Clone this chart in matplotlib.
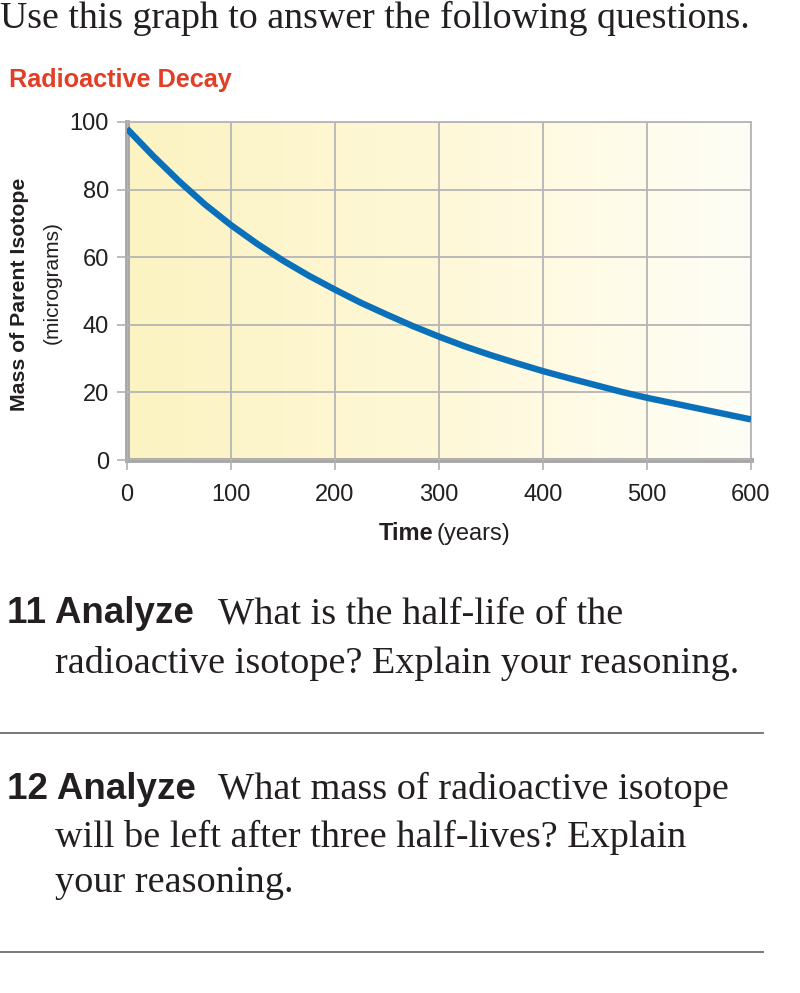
import numpy as np
import matplotlib
matplotlib.use("Agg")
import matplotlib.pyplot as plt
from matplotlib.colors import LinearSegmentedColormap

# ---- data ----
time_years = [0, 25, 50, 75, 100, 125, 150, 175, 200, 225, 250, 275, 300,
              325, 350, 375, 400, 425, 450, 475, 500, 525, 550, 575, 600]
mass_ug = [98, 90, 82.5, 75.6, 69.5, 64, 59, 54.5, 50.4, 46.5, 43, 39.6, 36.5,
           33.6, 31, 28.6, 26.3, 24.2, 22.2, 20.2, 18.4, 16.8, 15.2, 13.6, 12]
x_ticks = [0, 100, 200, 300, 400, 500, 600]
y_ticks = [0, 20, 40, 60, 80, 100]

title = "Radioactive Decay"
header = "Use this graph to answer the following questions."
q11 = ["What is the half-life of the", "radioactive isotope? Explain your reasoning."]
q12 = ["What mass of radioactive isotope", "will be left after three half-lives? Explain",
       "your reasoning."]

W, H = 800, 993
fig = plt.figure(figsize=(W / 100, H / 100), dpi=100)
fig.patch.set_facecolor("white")

def fx(px):
    return px / W

def fy(py):
    return 1 - py / H

SANS = ["Liberation Sans", "DejaVu Sans"]
SERIF = ["Liberation Serif", "DejaVu Serif"]

ax = fig.add_axes([fx(127), fy(460), (751 - 127) / W, (460 - 122) / H])

# background gradient
cmap = LinearSegmentedColormap.from_list("bg", ["#fcf3c2", "#fef8d8", "#fffef6"])
grad = np.linspace(0, 1, 256).reshape(1, -1)
ax.imshow(grad, extent=[0, 600, 0, 100], aspect="auto", cmap=cmap, zorder=0)

ax.plot(time_years, mass_ug, color="#0a70b9", lw=4.6, solid_capstyle="butt",
        solid_joinstyle="round", zorder=3)

ax.set_xlim(0, 600)
ax.set_ylim(0, 100)
ax.set_xticks(x_ticks)
ax.set_yticks(y_ticks)
ax.grid(True, color="#b5b5b5", lw=1.3, zorder=1)
ax.set_axisbelow(False)
for s in ["top", "right"]:
    ax.spines[s].set_color("#b5b5b5")
    ax.spines[s].set_linewidth(1.3)
for s in ["left", "bottom"]:
    ax.spines[s].set_color("#a7a7a7")
    ax.spines[s].set_linewidth(3.5)
ax.tick_params(axis="both", direction="out", length=7, width=1.2, color="#b0b0b0",
               labelsize=17, pad=10)
ax.tick_params(axis="y", pad=6)
for lab in ax.get_xticklabels() + ax.get_yticklabels():
    lab.set_family(SANS)
    lab.set_color("#231f20")

# axis labels
fig.text(fx(433), fy(540), "Time", family=SANS, fontweight="bold", fontsize=17,
         ha="right", va="baseline", color="#231f20")
fig.text(fx(437), fy(540), "(years)", family=SANS, fontsize=17,
         ha="left", va="baseline", color="#231f20")
fig.text(fx(20), fy(294), "Mass of Parent Isotope", family=SANS, fontweight="bold",
         fontsize=15.3, rotation=90, ha="center", va="center", color="#231f20")
fig.text(fx(52), fy(283), "(micrograms)", family=SANS, fontsize=15,
         rotation=90, ha="center", va="center", color="#231f20")

# title
fig.text(fx(9), fy(87), title, family=SANS, fontweight="bold", fontsize=18.2,
         color="#e23d25", ha="left", va="baseline")

# header
fig.text(fx(0), fy(28), header, family=SERIF, fontsize=27.3, color="#231f20",
         ha="left", va="baseline")

# questions
def question(num, lines, baselines):
    fig.text(fx(7), fy(baselines[0]), f"{num} Analyze", family=SANS, fontweight="bold",
             fontsize=26.5, color="#231f20", ha="left", va="baseline")
    for i, (ln, b) in enumerate(zip(lines, baselines)):
        x0 = 218 if i == 0 else 55
        fig.text(fx(x0), fy(b), ln, family=SERIF, fontsize=27.5, color="#231f20",
                 ha="left", va="baseline")

question("11", q11, [623, 673])
question("12", q12, [799, 847, 892])

for yline in [733, 952]:
    fig.add_artist(plt.Line2D([fx(0), fx(763)], [fy(yline), fy(yline)],
                              color="#6d6e71", lw=1.3, transform=fig.transFigure))

fig.savefig("out.png", dpi=100, facecolor="white")
